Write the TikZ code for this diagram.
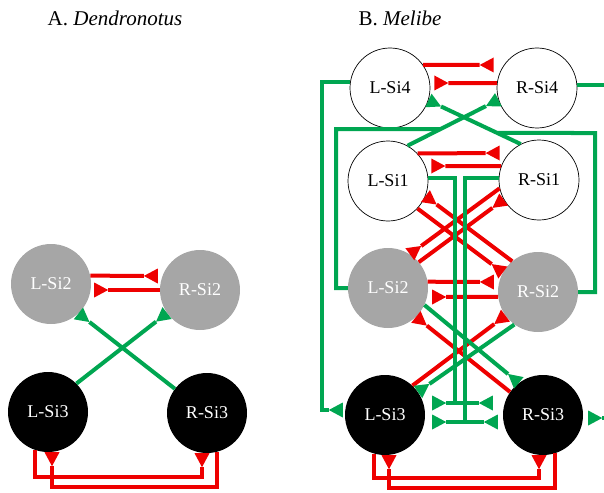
\documentclass[tikz,border=0pt]{standalone}
\usepackage{fontspec}
\setmainfont{Liberation Serif}
\usetikzlibrary{arrows.meta,calc}
\definecolor{myred}{RGB}{238,0,0}
\definecolor{mygreen}{RGB}{0,166,81}
\definecolor{mygrey}{RGB}{166,166,166}
\tikzset{
  redl/.style={draw=myred, line width=4pt},
  grnl/.style={draw=mygreen, line width=4pt},
  syntip/.tip={Triangle[reversed,length=14pt,width=15pt,line width=0pt]},
  syn/.style={-syntip},
  synboth/.style={syntip-syntip},
  cell/.style={circle, minimum size=80pt, inner sep=0pt, font=\fontsize{18}{20}\selectfont},
  wnode/.style={cell, draw=black, line width=0.7pt, fill=white, text=black},
  gnode/.style={cell, fill=mygrey, text=white},
  bnode/.style={cell, fill=black, text=white},
  ttl/.style={font=\fontsize{21}{24}\selectfont, inner sep=0pt}
}
\begin{document}
\begin{tikzpicture}[x=1pt,y=-1pt]
\useasboundingbox (0,0) rectangle (604,492);
\clip (0,0) rectangle (604,492);
% titles
\node[ttl] (tA) at (115,18) {A. \textit{Dendronotus}};
\node[ttl] (tB) at (400,18) {B. \textit{Melibe}};
% panel A nodes
\node[gnode] (aL2) at (51,284) {L-Si2};
\node[gnode] (aR2) at (200,290) {R-Si2};
\node[bnode] (aL3) at (48,412) {L-Si3};
\node[bnode] (aR3) at (207,413) {R-Si3};
% panel B nodes
\node[wnode] (L4) at (390,88) {L-Si4};
\node[wnode] (R4) at (537,88) {R-Si4};
\node[wnode] (L1) at (388,181) {L-Si1};
\node[wnode] (R1) at (539,180) {R-Si1};
\node[gnode] (L2) at (388,288) {L-Si2};
\node[gnode] (R2) at (538,292) {R-Si2};
\node[bnode] (L3) at (385,415) {L-Si3};
\node[bnode] (R3) at (543,415) {R-Si3};

% ---- panel A connections
\draw[redl,syn] (aL2.12) -- ($(aR2.west |- 0,276)+(-2,0)$);
\draw[redl,syn] (aR2.180) -- ($(aL2.east |- 0,290)+(3,0)$);
\draw[redl,syn] (aL3.251) |- (202,477) -- (aR3.south -| 202,0);
\draw[redl,syn] (aR3.284) |- (52,487) -- (aL3.south -| 52,0);
\draw[grnl,syn] (aL3.45) -- (aR2.215);
\draw[grnl,syn] (aR3.143) -- (aL2.-47);

% ---- panel B red connections
\draw[redl,syn] (L4.35) -- ($(R4.west |- 0,65)+(-3,0)$);
\draw[redl,syn] (R4.173) -- ($(L4.east |- 0,83)+(4,0)$);
\draw[redl,syn] (L1.43) -- ($(R1.west |- 0,153)+(1,0)$);
\draw[redl,syn] (R1.160) -- ($(L1.east |- 0,166)+(3,0)$);
\draw[redl,syn] (L2.9) -- ($(R2.west |- 0,282)+(-4,0)$);
\draw[redl,syn] (R2.187) -- ($(L2.east |- 0,297)+(4,0)$);
\draw[redl,syn] (L1.-43) -- (R2.151);
\draw[redl,syn] (R2.130) -- (L1.-22);
\draw[redl,syn] (R1.192) -- (L2.57);
\draw[redl,syn] (L2.40) -- (R1.209);
\draw[redl,syn] (R3.145) -- (L2.-46);
\draw[redl,syn] (L3.47) -- (R2.216);
\draw[redl,syn] (L3.254) |- (539,478) -- (R3.south -| 539,0);
\draw[redl,syn] (R3.287) |- (389,488) -- (L3.south -| 389,0);

% ---- panel B green connections
\draw[grnl,syn] (L1.61) -- (R4.197);
\draw[grnl,syn] (R1.117) -- (L4.-18);
\coordinate (jL) at (intersection of L1.61--R4.197 and 0,129--600,129);
\coordinate (jR) at (intersection of R1.117--L4.-18 and 0,133--600,133);
\draw[grnl] (L2.west) -| (336,129) -- (jL);
\draw[grnl] (R2.east) -| (595,133) -- (jR);
\draw[grnl,syn] (L4.171) -| (322,410) -- ($(L3.west |- 0,410)+(-2,0)$);
\draw[grnl,syn] (R4.4) -| (615,418) -- ($(R3.east |- 0,418)+(5,0)$);
\draw[grnl,syn] (L2.-25) -- (R3.127);
\draw[grnl,syn] (R2.234) -- (L3.35);
\draw[grnl] (L1.4) -| (455,403);
\draw[grnl] (R1.177) -| (465,422);
\draw[grnl,synboth] ($(L3.east |- 0,403)+(7,0)$) -- ($(R3.west |- 0,403)+(-10,0)$);
\draw[grnl,synboth] ($(L3.east |- 0,422)+(7,0)$) -- ($(R3.west |- 0,422)+(-5,0)$);
\end{tikzpicture}
\end{document}
